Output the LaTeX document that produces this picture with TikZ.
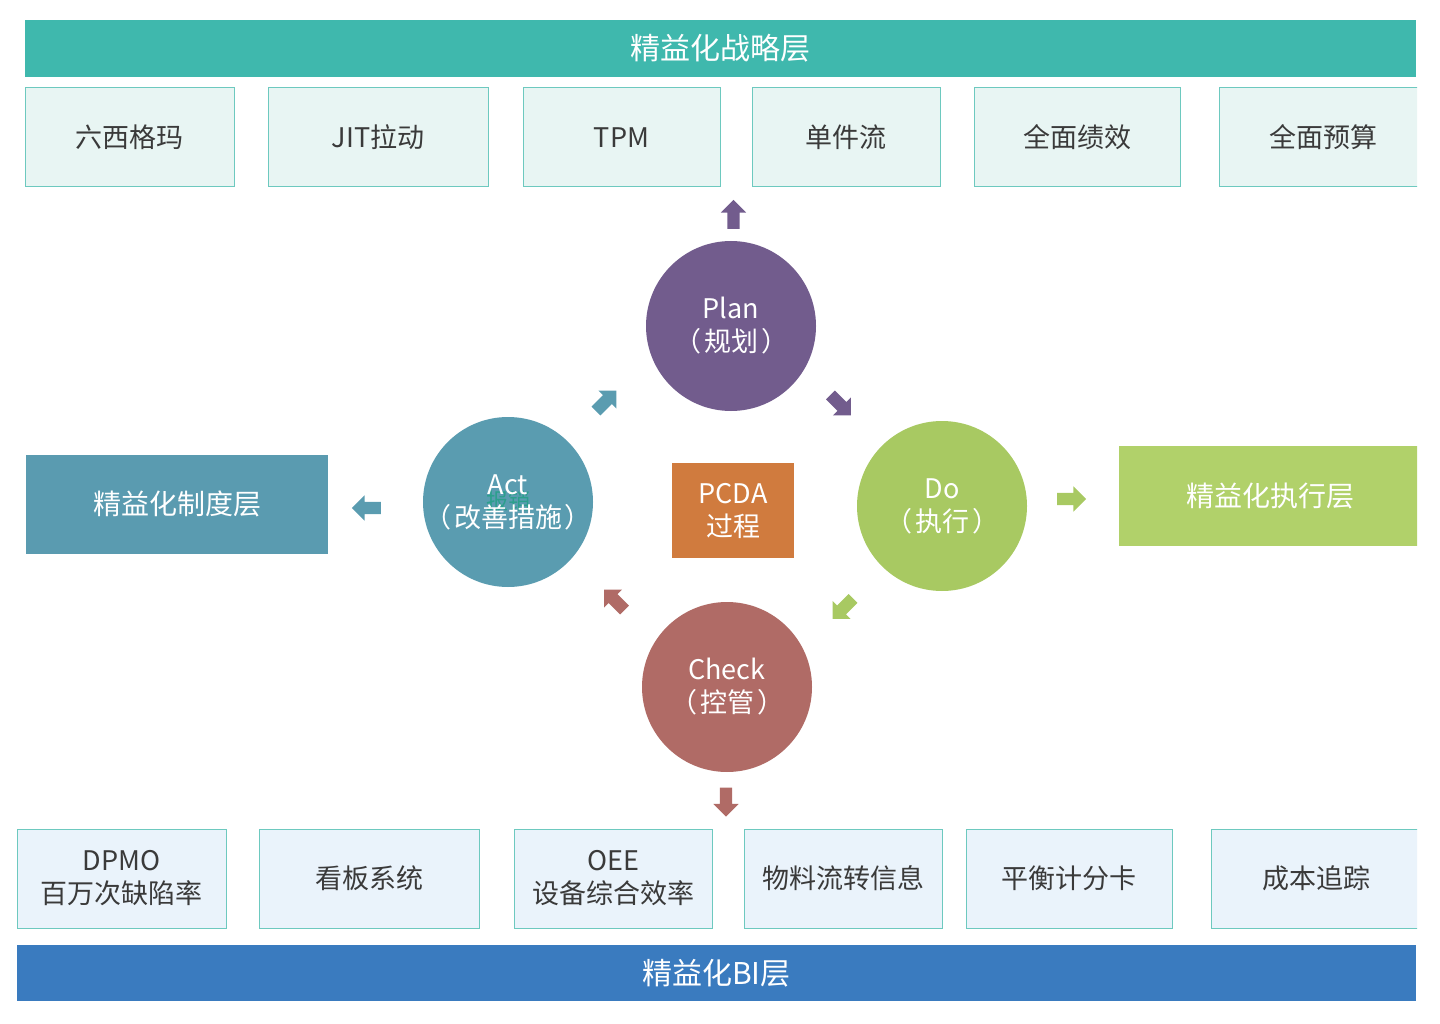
\documentclass[tikz,border=0pt]{standalone}
\usepackage{fontspec}
\setmainfont{Noto Sans CJK SC}
\usepackage{xcolor}
\usetikzlibrary{shapes.arrows,positioning}

\definecolor{stratbar}{HTML}{3FB8AD}
\definecolor{biBar}{HTML}{3A7BBF}
\definecolor{topfill}{HTML}{E8F5F3}
\definecolor{botfill}{HTML}{EAF3FB}
\definecolor{boxline}{HTML}{6DC9BF}
\definecolor{txtdark}{HTML}{3A3A3A}
\definecolor{sysblue}{HTML}{5A9BB0}
\definecolor{exegreen}{HTML}{B1D16A}
\definecolor{planc}{HTML}{725C8D}
\definecolor{doc}{HTML}{A8C962}
\definecolor{checkc}{HTML}{B06B66}
\definecolor{actc}{HTML}{5A9CB0}
\definecolor{pcdac}{HTML}{D07B3E}
\definecolor{ghostc}{HTML}{2BA08C}

\newcommand{\pl}{（\kern3pt}
\newcommand{\pr}{\kern3pt）}

\begin{document}
\begin{tikzpicture}[x=1pt, y=-1pt,
  bar/.style={minimum height=57pt, inner sep=0pt, text=white,
              font=\fontsize{30}{33}\selectfont},
  topbox/.style={draw=boxline, line width=1pt, fill=topfill, minimum height=99pt,
                 inner sep=0pt, text=txtdark, font=\fontsize{27}{33}\selectfont},
  botbox/.style={topbox, fill=botfill, align=center},
  side/.style={minimum width=302pt, minimum height=99pt, inner sep=0pt, text=white,
               font=\fontsize{28}{33}\selectfont},
  phase/.style={circle, minimum size=170pt, inner sep=0pt, text=white, align=center,
                font=\fontsize{27}{33}\selectfont},
  blk/.style={single arrow, minimum height=29pt, single arrow head extend=6.5pt,
              single arrow head indent=0pt, inner xsep=0pt, inner ysep=6pt, draw=none}
]
  \useasboundingbox (0,0) rectangle (1440,1024);
  \clip (0,0) rectangle (1417,1024);

  \node[bar, fill=stratbar, minimum width=1391pt] (strat) at (720.5,48.5) {精益化战略层};
  \node[topbox, minimum width=209pt] (six)  at (129.5,137.5) {六西格玛};
  \node[topbox, minimum width=220pt] (jit)  at (378,137.5)   {JIT拉动};
  \node[topbox, minimum width=197pt] (tpm)  at (621.5,137.5) {TPM};
  \node[topbox, minimum width=188pt] (flow) at (846,137.5)   {单件流};
  \node[topbox, minimum width=206pt] (perf) at (1077,137.5)  {全面绩效};
  \node[topbox, minimum width=209pt] (budg) at (1323.5,137.5) {全面预算};

  \node[botbox, minimum width=209pt] (dpmo)  at (121.5,878.5) {DPMO\\百万次缺陷率};
  \node[botbox, minimum width=220pt] (kanb)  at (369,878.5)   {看板系统};
  \node[botbox, minimum width=198pt] (oee)   at (613,878.5)   {OEE\\设备综合效率};
  \node[botbox, minimum width=198pt] (matl)  at (843,878.5)   {物料流转信息};
  \node[botbox, minimum width=206pt] (bsc)   at (1069,878.5)  {平衡计分卡};
  \node[botbox, minimum width=210pt] (cost)  at (1316,878.5)  {成本追踪};
  \node[bar, fill=biBar, minimum width=1399pt, minimum height=56pt] (bi) at (716.5,973) {精益化BI层};

  \node[side, fill=sysblue] (sys) at (177,504) {精益化制度层};
  \node[side, fill=exegreen, minimum height=100pt] (exe) at (1270,496) {精益化执行层};

  \node[phase, fill=planc]  (plan)  at (731,326) {Plan\\\pl 规划\pr};
  \node[phase, fill=doc]    (do)    at (942,506) {Do\\\pl 执行\pr};
  \node[phase, fill=checkc] (check) at (727,687) {Check\\\pl 控管\pr};
  \node[phase, fill=actc]   (act)   at (508,502) {};
  \node[text=ghostc, font=\fontsize{22}{26}\selectfont] (ghost) at (508,501) {报销};
  \node[text=white, align=center, font=\fontsize{27}{33}\selectfont] (actlbl) at (act) {Act\\\pl 改善措施\pr};

  \node[fill=pcdac, minimum width=122pt, minimum height=95pt, inner sep=0pt, text=white,
        align=center, font=\fontsize{27}{33}\selectfont] (pcda) at (733,510.5) {PCDA\\过程};

  \node[blk, fill=planc, rotate=90]    (a1) at (733.5,217.5) {};
  \node[blk, fill=planc, rotate=-45]   (a2) at (838.5,403)   {};
  \node[blk, fill=doc]                 (a3) at (1068.5,499)  {};
  \node[blk, fill=doc, rotate=-135]    (a4) at (845,606.5)   {};
  \node[blk, fill=checkc, rotate=-90]  (a5) at (726,799)     {};
  \node[blk, fill=checkc, rotate=135]  (a6) at (616.5,602)   {};
  \node[blk, fill=actc, rotate=180]    (a7) at (369.5,508)   {};
  \node[blk, fill=actc, rotate=45]     (a8) at (604,403)     {};
\end{tikzpicture}
\end{document}
